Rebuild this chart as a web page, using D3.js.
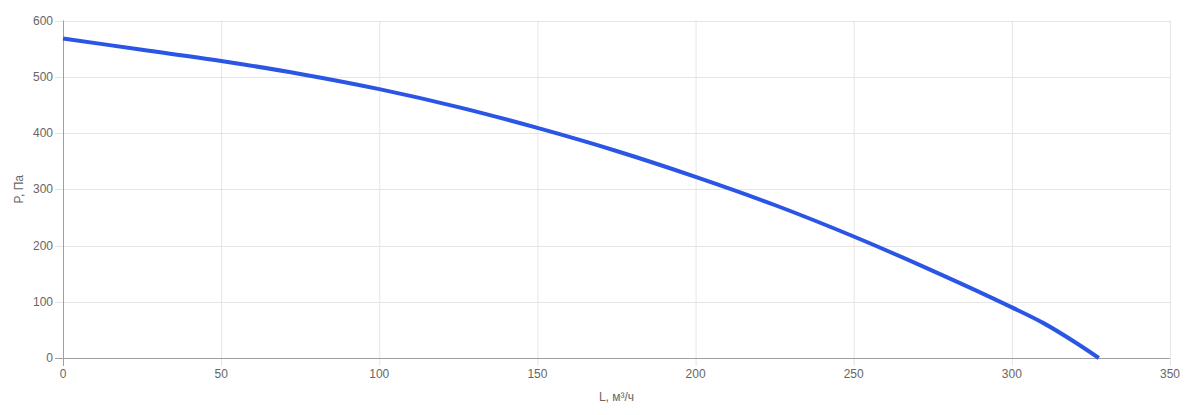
<!DOCTYPE html>
<html><head><meta charset="utf-8">
<script src="https://cdn.jsdelivr.net/npm/d3@7"></script>
<style>body{margin:0;background:#fff;}svg{display:block;font-family:"Liberation Sans",Arial,sans-serif;}</style>
</head><body><svg id="c" width="1203" height="415"></svg>
<script>
const flow = [0, 25, 50, 75, 100, 125, 150, 175, 200, 225, 250, 275, 300, 310, 320, 327.5];
const pressure = [568, 548, 528, 505, 478, 446, 409, 368, 322, 272, 216, 155, 90, 62, 28, 0];
const xTicks = [0, 50, 100, 150, 200, 250, 300, 350];
const yTicks = [0, 100, 200, 300, 400, 500, 600];
const xTitle = "L, м³/ч";
const yTitle = "P, Па";

const svg = d3.select("#c");
const m = {l: 63, r: 33, t: 20.5, b: 57};
const W = 1203, H = 415;
const x = d3.scaleLinear().domain([0, 350]).range([m.l, W - m.r]);
const y = d3.scaleLinear().domain([0, 600]).range([H - m.b, m.t]);

// grid
svg.append("g").selectAll("line").data(xTicks.slice(1)).join("line")
  .attr("x1", d => x(d) + 0.5).attr("x2", d => x(d) + 0.5)
  .attr("y1", y(600)).attr("y2", y(0) + 8).attr("stroke", "#e5e5e5");
svg.append("g").selectAll("line").data(yTicks.slice(1)).join("line")
  .attr("x1", x(0) - 8).attr("x2", x(350)).attr("y1", d => Math.round(y(d)) + 0.5).attr("y2", d => Math.round(y(d)) + 0.5)
  .attr("stroke", "#e5e5e5");
// axis lines
svg.append("line").attr("x1", x(0) + 0.5).attr("x2", x(0) + 0.5).attr("y1", y(600)).attr("y2", y(0) + 8).attr("stroke", "#a0a0a0");
svg.append("line").attr("x1", x(0) - 8).attr("x2", x(350)).attr("y1", Math.round(y(0)) + 0.5).attr("y2", Math.round(y(0)) + 0.5).attr("stroke", "#a0a0a0");

// tick labels
svg.append("g").selectAll("text").data(xTicks).join("text")
  .attr("x", d => x(d)).attr("y", y(0) + 20).attr("text-anchor", "middle")
  .attr("font-size", 12).attr("fill", "#666").text(d => d);
svg.append("g").selectAll("text").data(yTicks).join("text")
  .attr("x", x(0) - 10).attr("y", d => y(d) + 4).attr("text-anchor", "end")
  .attr("font-size", 12).attr("fill", "#666").text(d => d);

// titles
svg.append("text").attr("x", (x(0) + x(350)) / 2).attr("y", 401).attr("text-anchor", "middle")
  .attr("font-size", 12).attr("fill", "#666").text(xTitle);
svg.append("text").attr("transform", `translate(23,${(y(0) + y(600)) / 2}) rotate(-90)`).attr("text-anchor", "middle")
  .attr("font-size", 12).attr("fill", "#666").text(yTitle);

// line
const pts = flow.map((f, i) => [f, pressure[i]]);
svg.append("path").datum(pts)
  .attr("d", d3.line().x(d => x(d[0])).y(d => y(d[1])).curve(d3.curveMonotoneX))
  .attr("fill", "none").attr("stroke", "#2a55e5").attr("stroke-width", 4).attr("stroke-linecap", "butt");
</script></body></html>
